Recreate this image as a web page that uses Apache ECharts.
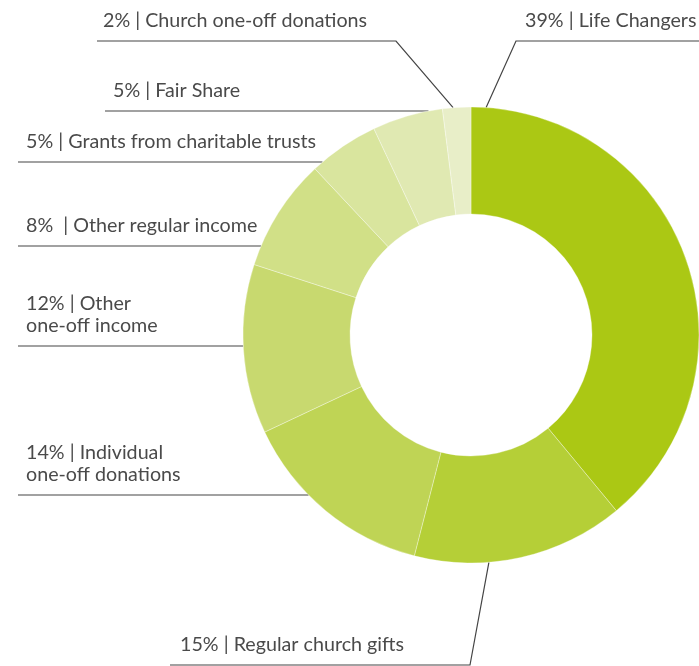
<!DOCTYPE html>
<html>
<head>
<meta charset="utf-8">
<script src="https://cdn.jsdelivr.net/npm/echarts@6/dist/echarts.min.js"></script>
<style>
  html, body { margin: 0; padding: 0; background: #fff; }
  #chart { width: 699px; height: 666px; }
</style>
</head>
<body>
<div id="chart"></div>
<script>
// Income sources, in order round the ring clockwise from 12 o'clock
const categories = [
  'Life Changers',
  'Regular church gifts',
  'Individual\none-off donations',
  'Other\none-off income',
  'Other regular income',
  'Grants from charitable trusts',
  'Fair Share',
  'Church one-off donations'
];
const shares = [39, 15, 14, 12, 8, 5, 5, 2];
const separators = [' | ', ' | ', ' | ', ' | ', '  | ', ' | ', ' | ', ' | '];
const sliceColors = ['#abc814', '#b5cf37', '#bfd455', '#c8d96f', '#d1e087', '#d9e59e', '#e0e9b2', '#e8eec8'];

// Ring geometry (pixels)
const CX = 471, CY = 335, R_IN = 121, R_OUT = 228;

// Where each callout sits: text left edge, underline row and extent,
// and (optionally) the angle on the rim where a leader line meets the ring.
// joinAt tells which end of the underline the leader attaches to.
const callouts = [
  { textX: 525, lineY: 41,  lineFrom: 516, lineTo: 699, rimAngle: 3.8,   joinAt: 'start' },
  { textX: 180, lineY: 665, lineFrom: 170, lineTo: 470, rimAngle: 175.5, joinAt: 'end' },
  { textX: 26,  lineY: 495, lineFrom: 18 },
  { textX: 26,  lineY: 346, lineFrom: 18 },
  { textX: 26,  lineY: 246, lineFrom: 18 },
  { textX: 26,  lineY: 162, lineFrom: 18 },
  { textX: 113, lineY: 111, lineFrom: 105 },
  { textX: 103, lineY: 41,  lineFrom: 97,  lineTo: 396, rimAngle: -4.5,  joinAt: 'end' }
];

function rimPoint(deg) {
  const a = deg * Math.PI / 180;
  return [CX + R_OUT * Math.sin(a), CY - R_OUT * Math.cos(a)];
}
// left-hand point where a horizontal row meets the outer rim
function rimLeftAtY(y) {
  const dy = y - CY;
  return CX - Math.sqrt(Math.max(0, R_OUT * R_OUT - dy * dy));
}

const chart = echarts.init(document.getElementById('chart'), null, { renderer: 'canvas' });

chart.setOption({
  animation: false,
  backgroundColor: '#ffffff',
  series: [{
    type: 'pie',
    center: [CX, CY],
    radius: [R_IN, R_OUT],
    startAngle: 90,
    clockwise: true,
    avoidLabelOverlap: false,
    emphasis: { disabled: true },
    itemStyle: { borderColor: 'rgba(255,255,255,0.55)', borderWidth: 0.6 },
    label: {
      show: true,
      position: 'outside',
      formatter: function (p) {
        return p.value + '%' + separators[p.dataIndex] + p.name;
      },
      color: '#4a4a4a',
      fontFamily: 'Lato',
      fontSize: 19.7,
      lineHeight: 22
    },
    labelLine: {
      show: true,
      smooth: false,
      lineStyle: { color: '#444444', width: 1.2 }
    },
    labelLayout: function (params) {
      const c = callouts[params.dataIndex];
      let pts;
      if (c.rimAngle !== undefined) {
        const joinX = c.joinAt === 'start' ? c.lineFrom : c.lineTo;
        const farX = c.joinAt === 'start' ? c.lineTo : c.lineFrom;
        pts = [rimPoint(c.rimAngle), [joinX, c.lineY], [farX, c.lineY]];
      } else {
        const xr = rimLeftAtY(c.lineY);
        pts = [[xr, c.lineY], [xr, c.lineY], [c.lineFrom, c.lineY]];
      }
      return {
        x: c.textX,
        y: c.lineY - 9,
        align: 'left',
        verticalAlign: 'bottom',
        labelLinePoints: pts
      };
    },
    data: categories.map(function (name, i) {
      return { name: name, value: shares[i], itemStyle: { color: sliceColors[i] } };
    })
  }]
});
</script>
</body>
</html>
